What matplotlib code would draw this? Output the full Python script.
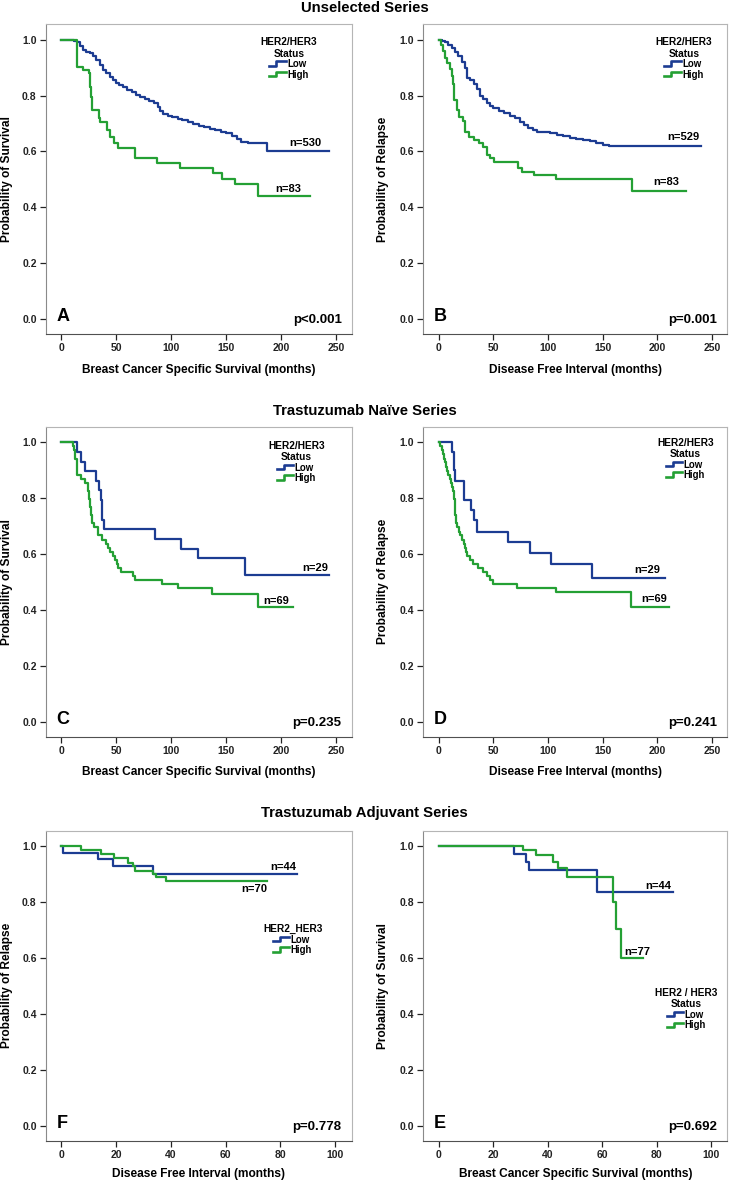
import matplotlib
matplotlib.use('Agg')
import matplotlib.pyplot as plt
from matplotlib.lines import Line2D
from matplotlib.legend_handler import HandlerBase

plt.rcParams['font.family'] = ['Liberation Sans', 'DejaVu Sans']
plt.rcParams['font.weight'] = 'bold'

BLUE = '#1c3c92'
GREEN = '#24a034'

# ---- data ----
# A: unselected, breast cancer specific survival
a_low_t = [0, 12, 14, 17, 20, 23, 26, 29, 32, 35, 38, 41, 44, 47, 50, 53, 56, 60, 64, 68,
           72, 76, 80, 84, 88, 90, 93, 97, 101, 106, 110, 115, 120, 125, 130, 135, 140,
           145, 150, 155, 160, 163, 170, 187.5, 243]
a_low_s = [1.0, 0.995, 0.99, 0.978, 0.963, 0.957, 0.951, 0.94, 0.927, 0.91, 0.892, 0.88,
           0.868, 0.855, 0.844, 0.837, 0.83, 0.82, 0.811, 0.803, 0.795, 0.788, 0.779, 0.772,
           0.76, 0.745, 0.733, 0.727, 0.722, 0.717, 0.712, 0.705, 0.698, 0.69, 0.686, 0.682,
           0.677, 0.671, 0.665, 0.657, 0.645, 0.635, 0.629, 0.603, 0.603]
a_high_t = [0, 14, 20, 25, 26, 27, 28.5, 34, 35.5, 42, 44, 48, 52, 66.7, 86.8, 108, 138,
            146, 158, 179, 226]
a_high_s = [1.0, 0.903, 0.892, 0.88, 0.83, 0.796, 0.749, 0.719, 0.707, 0.677, 0.653, 0.629,
            0.611, 0.578, 0.558, 0.54, 0.522, 0.502, 0.482, 0.44, 0.44]

# B: unselected, disease free interval
b_low_t = [0, 3, 6, 9, 12, 15, 18, 21, 24, 26, 29, 32, 35, 38, 41, 44, 47, 50, 55, 60, 65,
           70, 74, 78, 82, 86, 90, 96, 102, 108, 114, 120, 126, 132, 138, 144, 150, 156,
           239.5]
b_low_s = [1.0, 0.995, 0.99, 0.98, 0.97, 0.955, 0.94, 0.92, 0.9, 0.862, 0.855, 0.84, 0.825,
           0.8, 0.787, 0.772, 0.762, 0.754, 0.745, 0.737, 0.728, 0.719, 0.705, 0.693, 0.685,
           0.678, 0.671, 0.668, 0.665, 0.66, 0.654, 0.648, 0.645, 0.642, 0.637, 0.63, 0.624,
           0.62, 0.62]
b_high_t = [0, 2, 4, 6, 8, 10, 12, 13.5, 14.5, 16.5, 19, 22, 24.5, 27.5, 32, 37, 41, 44, 47,
            50.5, 73, 76, 87, 107, 177, 226]
b_high_s = [1.0, 0.98, 0.96, 0.935, 0.915, 0.895, 0.87, 0.84, 0.785, 0.75, 0.725, 0.71,
            0.671, 0.653, 0.641, 0.629, 0.617, 0.588, 0.576, 0.564, 0.54, 0.528, 0.516, 0.5,
            0.457, 0.457]

# C: trastuzumab naive, breast cancer specific survival
c_low_t = [0, 14, 18.5, 21.5, 32, 34.3, 35.8, 36.8, 37.5, 38.8, 85.3, 109, 124, 167, 243]
c_low_s = [1.0, 0.966, 0.931, 0.897, 0.862, 0.828, 0.793, 0.759, 0.724, 0.69, 0.655, 0.62,
           0.585, 0.526, 0.526]
c_high_t = [0, 10.5, 11.5, 13, 14, 14.8, 18.5, 21.5, 24.5, 25.3, 26.3, 27.5, 28.5, 29.5,
            33.7, 37, 41, 42.5, 44, 47.3, 49, 50.5, 52, 54, 65.5, 67, 92, 106.5, 137.5,
            178.7, 210.5]
c_high_s = [1.0, 0.986, 0.971, 0.942, 0.913, 0.884, 0.87, 0.855, 0.826, 0.797, 0.768, 0.739,
            0.71, 0.696, 0.667, 0.652, 0.638, 0.623, 0.609, 0.594, 0.58, 0.565, 0.551, 0.536,
            0.522, 0.507, 0.493, 0.478, 0.457, 0.411, 0.411]

# D: trastuzumab naive, disease free interval
d_low_t = [0, 11.9, 14, 14.8, 23.4, 29.2, 32.6, 35.3, 63.6, 83.4, 103, 140.4, 206.8]
d_low_s = [1.0, 0.966, 0.9, 0.862, 0.793, 0.758, 0.722, 0.681, 0.645, 0.605, 0.565, 0.514,
           0.514]
d_high_t = [0, 1, 2.7, 3.7, 4.5, 5.8, 6.8, 7.5, 8.8, 10.4, 11.5, 12.5, 13.4, 14, 14.6, 15.3,
            16, 17, 18.5, 19.5, 21.5, 23.5, 24.3, 25, 26, 28.6, 31.7, 36, 40.8, 43.9, 46.9,
            50, 71.3, 107, 176.3, 210.7]
d_high_s = [1.0, 0.986, 0.971, 0.957, 0.942, 0.928, 0.913, 0.899, 0.884, 0.87, 0.855, 0.841,
            0.826, 0.797, 0.768, 0.739, 0.71, 0.696, 0.681, 0.667, 0.652, 0.638, 0.623, 0.609,
            0.594, 0.58, 0.565, 0.551, 0.536, 0.522, 0.507, 0.493, 0.478, 0.464, 0.411, 0.411]

# F: trastuzumab adjuvant, disease free interval
f_low_t = [0, 0.7, 13.3, 18.8, 33.4, 86]
f_low_s = [1.0, 0.977, 0.954, 0.931, 0.901, 0.901]
f_high_t = [0, 7.1, 14.4, 19.4, 24.2, 26.1, 27, 33.4, 34.7, 38.1, 75]
f_high_s = [1.0, 0.986, 0.971, 0.957, 0.942, 0.928, 0.913, 0.901, 0.89, 0.876, 0.876]

# E: trastuzumab adjuvant, breast cancer specific survival
e_low_t = [0, 27.8, 32.1, 33, 58.2, 86]
e_low_s = [1.0, 0.973, 0.945, 0.915, 0.837, 0.837]
e_high_t = [0, 31.1, 35.7, 41.8, 43.9, 47.1, 63.9, 65.1, 67, 75.1]
e_high_s = [1.0, 0.987, 0.968, 0.945, 0.921, 0.891, 0.802, 0.703, 0.6, 0.6]

row_titles = ['Unselected Series', 'Trastuzumab Na\u00efve Series', 'Trastuzumab Adjuvant Series']

panels = [
    dict(letter='A', p='p<0.001', low=(a_low_t, a_low_s), high=(a_high_t, a_high_s),
         n_low=('n=530', 222, 0.632), n_high=('n=83', 206.6, 0.466),
         xlabel='Breast Cancer Specific Survival (months)', ylabel='Probability of Survival',
         leg_title='HER2/HER3\nStatus', leg_pos=(0.795, 0.958)),
    dict(letter='B', p='p=0.001', low=(b_low_t, b_low_s), high=(b_high_t, b_high_s),
         n_low=('n=529', 223.6, 0.653), n_high=('n=83', 208.4, 0.489),
         xlabel='Disease Free Interval (months)', ylabel='Probability of Relapse',
         leg_title='HER2/HER3\nStatus', leg_pos=(0.857, 0.958)),
    dict(letter='C', p='p=0.235', low=(c_low_t, c_low_s), high=(c_high_t, c_high_s),
         n_low=('n=29', 231, 0.552), n_high=('n=69', 195, 0.433),
         xlabel='Breast Cancer Specific Survival (months)', ylabel='Probability of Survival',
         leg_title='HER2/HER3\nStatus', leg_pos=(0.82, 0.955)),
    dict(letter='D', p='p=0.241', low=(d_low_t, d_low_s), high=(d_high_t, d_high_s),
         n_low=('n=29', 190.6, 0.543), n_high=('n=69', 196.7, 0.439),
         xlabel='Disease Free Interval (months)', ylabel='Probability of Relapse',
         leg_title='HER2/HER3\nStatus', leg_pos=(0.863, 0.965)),
    dict(letter='F', p='p=0.778', low=(f_low_t, f_low_s), high=(f_high_t, f_high_s),
         n_low=('n=44', 80.9, 0.927), n_high=('n=70', 70.4, 0.847),
         xlabel='Disease Free Interval (months)', ylabel='Probability of Relapse',
         leg_title='HER2_HER3', leg_pos=(0.807, 0.698)),
    dict(letter='E', p='p=0.692', low=(e_low_t, e_low_s), high=(e_high_t, e_high_s),
         n_low=('n=44', 80.7, 0.858), n_high=('n=77', 73, 0.623),
         xlabel='Breast Cancer Specific Survival (months)', ylabel='Probability of Survival',
         leg_title='HER2 / HER3\nStatus', leg_pos=(0.866, 0.493)),
]


class StepHandler(HandlerBase):
    # little KM-style step icon like the SPSS legend
    def create_artists(self, legend, orig_handle, xdescent, ydescent, width, height,
                       fontsize, trans):
        x0, y0 = -xdescent, -ydescent
        xs = [x0, x0 + 0.4 * width, x0 + 0.4 * width, x0 + width]
        ys = [y0 + 0.25 * height, y0 + 0.25 * height, y0 + 0.85 * height, y0 + 0.85 * height]
        return [Line2D(xs, ys, color=orig_handle.get_color(), lw=1.9, transform=trans)]


fig = plt.figure(figsize=(7.29, 11.8), dpi=100)

lefts = [45.7 / 729, 423.3 / 729]
widths = [306 / 729, 304 / 729]
bottoms = [1 - 334 / 1180, 1 - 736.7 / 1180, 1 - 1140.7 / 1180]
height = 310 / 1180
title_y = [1 - 8 / 1180, 1 - 411 / 1180, 1 - 813 / 1180]
xlab_y = [-0.098, -0.093, -0.089]

for i, pan in enumerate(panels):
    row, col = divmod(i, 2)
    ax = fig.add_axes([lefts[col], bottoms[row], widths[col], height])
    l_low, = ax.step(pan['low'][0], pan['low'][1], where='post', color=BLUE, lw=1.6)
    l_high, = ax.step(pan['high'][0], pan['high'][1], where='post', color=GREEN, lw=1.6)

    if row < 2:
        ax.set_xlim(-14, 264)
        ax.set_xticks(range(0, 251, 50))
    else:
        ax.set_xlim(-5.7, 106)
        ax.set_xticks(range(0, 101, 20))
    ax.set_ylim(-0.053, 1.056)
    ax.set_yticks([0, 0.2, 0.4, 0.6, 0.8, 1.0])
    ax.set_yticklabels(['0.0', '0.2', '0.4', '0.6', '0.8', '1.0'])
    ax.tick_params(labelsize=7.5, length=4, width=0.9, pad=2.5, colors='#222222')

    for side in ['top', 'right']:
        ax.spines[side].set_color('#b5b5b5')
    ax.spines['left'].set_color('#8a8a8a')
    ax.spines['bottom'].set_color('#505050')

    ax.set_xlabel(pan['xlabel'], fontsize=8.6, weight='bold')
    ax.set_ylabel(pan['ylabel'], fontsize=8.6, weight='bold')
    ax.xaxis.set_label_coords(0.5, xlab_y[row])
    ax.yaxis.set_label_coords(-0.108 if col == 0 else -0.114, 0.5)

    for txt, x, y in (pan['n_low'], pan['n_high']):
        ax.text(x, y, txt, fontsize=8, weight='bold', ha='center', va='center')

    ax.text(0.036, 0.055, pan['letter'], transform=ax.transAxes, fontsize=13,
            weight='bold', ha='left', va='center')
    ax.text(0.967, 0.045, pan['p'], transform=ax.transAxes, fontsize=9.5,
            weight='bold', ha='right', va='center')

    leg = ax.legend([l_low, l_high], ['Low', 'High'], handler_map={Line2D: StepHandler()},
                    title=pan['leg_title'], loc='upper center', bbox_to_anchor=pan['leg_pos'],
                    frameon=False, fontsize=6.9, title_fontsize=7.3, handlelength=1.7,
                    handleheight=0.8, handletextpad=0.15, labelspacing=0.05, borderpad=0,
                    borderaxespad=0)
    leg.get_title().set_multialignment('center')
    leg.get_title().set_weight('bold')

    if col == 0:
        fig.text(0.5, title_y[row], row_titles[row], ha='center', va='center',
                 fontsize=10.7, weight='bold')

fig.savefig('out.png', dpi=100)
